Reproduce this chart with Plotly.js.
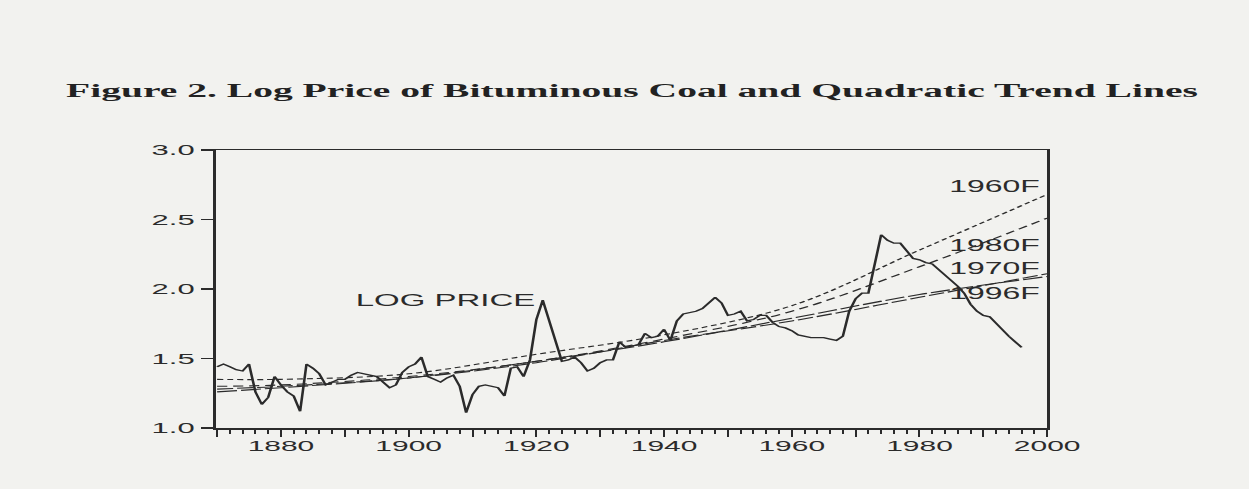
<!DOCTYPE html>
<html>
<head>
<meta charset="utf-8">
<script src="https://cdn.plot.ly/plotly-3.0.1.min.js"></script>
<style>
  html, body { margin: 0; padding: 0; background: #f2f2ef; overflow: hidden; }
  #wrap { width: 625px; height: 489px; transform: scaleX(1.9984); transform-origin: 0 0; }
</style>
</head>
<body>
<div id="wrap"></div>
<script>
// ---- data ----
const years = [1870,1871,1872,1873,1874,1875,1876,1877,1878,1879,
  1880,1881,1882,1883,1884,1885,1886,1887,1888,1889,
  1890,1891,1892,1893,1894,1895,1896,1897,1898,1899,
  1900,1901,1902,1903,1904,1905,1906,1907,1908,1909,
  1910,1911,1912,1913,1914,1915,1916,1917,1918,1919,
  1920,1921,1922,1923,1924,1925,1926,1927,1928,1929,
  1930,1931,1932,1933,1934,1935,1936,1937,1938,1939,
  1940,1941,1942,1943,1944,1945,1946,1947,1948,1949,
  1950,1951,1952,1953,1954,1955,1956,1957,1958,1959,
  1960,1961,1962,1963,1964,1965,1966,1967,1968,1969,
  1970,1971,1972,1973,1974,1975,1976,1977,1978,1979,
  1980,1981,1982,1983,1984,1985,1986,1987,1988,1989,
  1990,1991,1992,1993,1994,1995,1996];
const logPrice = [1.44,1.46,1.44,1.42,1.41,1.46,1.26,1.17,1.22,1.37,
  1.31,1.26,1.23,1.12,1.46,1.43,1.39,1.31,1.33,1.35,
  1.35,1.38,1.40,1.39,1.38,1.37,1.33,1.29,1.31,1.40,
  1.44,1.46,1.51,1.37,1.35,1.33,1.36,1.38,1.30,1.11,
  1.24,1.30,1.31,1.30,1.29,1.23,1.43,1.44,1.37,1.49,
  1.78,1.92,1.77,1.60,1.48,1.49,1.51,1.47,1.41,1.43,
  1.47,1.49,1.49,1.62,1.58,1.59,1.60,1.68,1.65,1.66,
  1.71,1.63,1.77,1.82,1.83,1.84,1.86,1.90,1.94,1.90,
  1.81,1.82,1.84,1.77,1.78,1.81,1.81,1.76,1.73,1.72,
  1.70,1.67,1.66,1.65,1.65,1.65,1.64,1.63,1.66,1.84,
  1.93,1.97,1.97,2.16,2.39,2.35,2.33,2.33,2.28,2.22,
  2.21,2.19,2.18,2.14,2.11,2.07,2.02,1.97,1.89,1.84,
  1.81,1.80,1.75,1.71,1.66,1.62,1.58];

const trendYears = [1870, 1880, 1900, 1920, 1940, 1960, 1980, 2000];
const trend1960F = [1.35, 1.35, 1.39, 1.53, 1.67, 1.88, 2.28, 2.68];
const trend1980F = [1.30, 1.31, 1.37, 1.48, 1.64, 1.84, 2.16, 2.51];
const trend1970F = [1.28, 1.30, 1.36, 1.47, 1.63, 1.77, 1.94, 2.11];
const trend1996F = [1.26, 1.29, 1.36, 1.48, 1.62, 1.79, 1.96, 2.09];

const trendLabels = ['1960F', '1980F', '1970F', '1996F'];
const trendLabelY = [2.74, 2.31, 2.15, 1.97];

const xTickVals = [1870,1880,1890,1900,1910,1920,1930,1940,1950,1960,1970,1980,1990,2000];
const xTickText = ['','1880','','1900','','1920','','1940','','1960','','1980','','2000'];

const titleText = 'Figure 2. Log Price of Bituminous Coal and Quadratic Trend Lines';

// ---- styles ----
const ink = '#2b2b2b';
const sans = 'Liberation Sans, Arial, sans-serif';

function trendTrace(y, dash) {
  return { x: trendYears, y: y, mode: 'lines', line: { color: ink, width: 1.1, dash: dash, shape: 'spline', smoothing: 1.0 }, hoverinfo: 'skip' };
}

const traces = [
  trendTrace(trend1960F, '3px,2px'),
  trendTrace(trend1980F, '5px,3px'),
  trendTrace(trend1970F, '8px,2px'),
  trendTrace(trend1996F, '10px,2px'),
  { x: years, y: logPrice, mode: 'lines', line: { color: ink, width: 1.3 } }
];

const annotations = trendLabels.map((t, i) => ({
  x: 2000, y: trendLabelY[i], xref: 'x', yref: 'y', text: t, showarrow: false,
  xanchor: 'right', yanchor: 'middle', xshift: -1,
  font: { family: sans, size: 16, color: ink }
}));
annotations.push({
  x: 1920.5, y: 1.92, xref: 'x', yref: 'y', text: 'LOG PRICE', showarrow: false,
  xanchor: 'right', yanchor: 'middle', font: { family: sans, size: 16.5, color: ink }
});

const layout = {
  width: 625, height: 489,
  paper_bgcolor: '#f2f2ef', plot_bgcolor: '#f2f2ef',
  showlegend: false,
  margin: { l: 107.5, r: 100.5, t: 150, b: 61 },
  title: {
    text: '<b>' + titleText + '</b>',
    font: { family: 'Liberation Serif, Times New Roman, serif', size: 19.8, color: '#222' },
    x: 0.506, xanchor: 'center', xref: 'container',
    y: 1 - 90 / 489, yanchor: 'middle', yref: 'container'
  },
  xaxis: {
    range: [1869.8, 2000], showgrid: false, zeroline: false,
    showline: true, linecolor: ink, linewidth: 1.5, mirror: true,
    tickmode: 'array', tickvals: xTickVals, ticktext: xTickText,
    ticks: 'outside', ticklen: 7, tickwidth: 1, tickcolor: ink,
    ticklabelstandoff: -3,
    minor: { dtick: 2, ticks: 'outside', ticklen: 4, tickcolor: ink, tickwidth: 1, showgrid: false },
    tickfont: { family: sans, size: 15, color: ink }
  },
  yaxis: {
    range: [1, 3], dtick: 0.5, tickformat: '.1f', showgrid: false, zeroline: false,
    showline: true, linecolor: ink, linewidth: 1.5, mirror: true,
    ticks: 'outside', ticklen: 6, tickwidth: 1.2, tickcolor: ink,
    tickfont: { family: sans, size: 15.5, color: ink }
  },
  annotations: annotations
};

Plotly.newPlot('wrap', traces, layout, { staticPlot: true, displayModeBar: false });
</script>
</body>
</html>
